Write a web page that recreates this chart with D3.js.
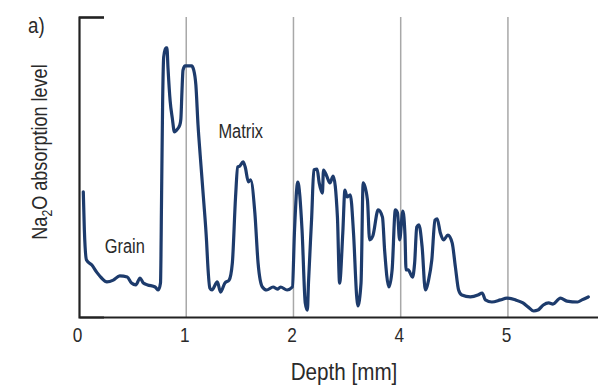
<!DOCTYPE html>
<html>
<head>
<meta charset="utf-8">
<script src="https://cdn.jsdelivr.net/npm/d3@7"></script>
<style>
  html, body { margin: 0; padding: 0; background: #fff; }
  svg text { font-family: "Liberation Sans", Arial, sans-serif; fill: #2a2a2a; }
</style>
</head>
<body>
<svg id="chart" width="598" height="385"></svg>
<script>
// Depth positions (tick index units) and Na2O absorption level (arbitrary units)
const depth = [0.04,0.05,0.07,0.12,0.17,0.21,0.26,0.32,0.38,0.45,0.49,0.53,0.57,0.60,0.64,0.71,0.74,0.76,0.77,0.78,0.79,0.81,0.82,0.83,0.85,0.87,0.89,0.91,0.94,0.95,0.96,0.97,0.99,1.03,1.05,1.07,1.09,1.11,1.13,1.16,1.19,1.20,1.22,1.24,1.29,1.32,1.36,1.40,1.43,1.46,1.48,1.50,1.53,1.55,1.58,1.60,1.64,1.67,1.71,1.75,1.81,1.85,1.88,1.94,1.99,2.01,2.04,2.08,2.11,2.13,2.14,2.17,2.19,2.22,2.24,2.27,2.28,2.31,2.34,2.37,2.41,2.43,2.46,2.48,2.50,2.53,2.56,2.59,2.60,2.63,2.65,2.69,2.71,2.74,2.79,2.83,2.85,2.89,2.92,2.95,2.97,2.99,3.02,3.04,3.05,3.07,3.11,3.13,3.15,3.17,3.20,3.23,3.26,3.29,3.32,3.34,3.37,3.40,3.44,3.48,3.51,3.54,3.57,3.65,3.72,3.76,3.79,3.85,3.93,3.99,4.07,4.14,4.19,4.24,4.28,4.33,4.38,4.42,4.49,4.55,4.65,4.69,4.75];
const level = [41.7,29,19,17.3,14.7,13,11.7,12.3,13.7,13.3,11.3,10.7,13,11.3,10.7,10,9,11.3,40,72,86.7,89.7,89.7,83,72,66.3,61.7,62.3,64,66,75,82.3,83.7,83.7,83.7,82.3,77.3,64,54,40,25,18,9.7,9,11.7,8.3,11.3,12.3,18,40,50,50.3,51.7,50,45,45.7,34.7,18,10,9,10,9.3,10,9,10,29,45,29,4.7,2.3,11.3,33.3,49,49.3,44.7,41.3,49,47,44.7,47,33.3,11.3,28,42.3,40,40.7,28,6.7,3.7,11.3,44.7,39,25.7,27,35.7,33.3,22.3,10,15.7,35.7,34.7,25.7,35.3,27.3,15.7,15.7,13.3,18,30,30.7,23.3,9,12.3,19,32.3,32.7,28,25.7,27.3,24.7,16.7,9,7.3,6.7,7.3,8,5.7,5,5.7,6.3,5.7,4.7,3.3,2,2.3,4,4.7,4.3,6.3,5.3,5,5.7,6.7];
const tickPos = [0, 1, 2, 3, 4];
const tickLabels = ["0", "1", "2", "4", "5"];
const annotations = [{text: "Grain", d: 0.24, v: 21.3}, {text: "Matrix", d: 1.30, v: 59.7}];

const svg = d3.select("#chart");
const x = d3.scaleLinear().domain([0, 4.84]).range([79, 598]);
const y = d3.scaleLinear().domain([0, 100]).range([317, 17]);

// narrow-font look: compress glyphs horizontally
function narrow(sel, f) {
  sel.each(function() {
    const w = this.getComputedTextLength();
    d3.select(this).attr("textLength", w * f).attr("lengthAdjust", "spacingAndGlyphs");
  });
}

// vertical grid lines
svg.append("g").selectAll("line").data(tickPos.slice(1)).join("line")
  .attr("x1", d => x(d)).attr("x2", d => x(d))
  .attr("y1", y(100)).attr("y2", y(0))
  .attr("stroke", "#a8a8a8").attr("stroke-width", 1.5);

// x axis
const xAxis = d3.axisBottom(x).tickValues(tickPos).tickSize(0)
  .tickFormat((d, i) => tickLabels[i]);
const gx = svg.append("g").attr("transform", `translate(0,${y(0)})`).call(xAxis);
gx.select(".domain").attr("stroke", "#222").attr("stroke-width", 2.2);
gx.selectAll(".tick text").attr("dy", 0).attr("y", 25).attr("dx", -2)
  .style("font-size", "21px").style("font-family", "'Liberation Sans', Arial, sans-serif")
  .attr("fill", "#2a2a2a").call(narrow, 0.82);

// y axis
const yAxis = d3.axisLeft(y).tickValues([100]).tickSize(-25).tickFormat("");
const gy = svg.append("g").attr("transform", `translate(${x(0)},0)`).call(yAxis);
gy.select(".domain").attr("stroke", "#222").attr("stroke-width", 2.2);
gy.selectAll(".tick line").attr("stroke", "#222").attr("stroke-width", 2.2);

// data line
const pts = depth.map((d, i) => [d, level[i]]);
svg.append("path").datum(pts)
  .attr("fill", "none").attr("stroke", "#1d3b6c").attr("stroke-width", 3.2)
  .attr("stroke-linejoin", "round").attr("stroke-linecap", "round")
  .attr("d", d3.line().x(d => x(d[0])).y(d => y(d[1])).curve(d3.curveMonotoneX));

// annotations
svg.append("g").selectAll("text").data(annotations).join("text")
  .attr("x", d => x(d.d)).attr("y", d => y(d.v))
  .style("font-size", "20px").text(d => d.text).call(narrow, 0.82);

// axis titles
svg.append("text").attr("x", 344).attr("y", 380).attr("text-anchor", "middle")
  .style("font-size", "24px").text("Depth [mm]").call(narrow, 0.86);

const yt = svg.append("text").attr("transform", "translate(47,152) rotate(-90)")
  .attr("text-anchor", "middle").style("font-size", "22px");
yt.append("tspan").text("Na");
yt.append("tspan").attr("dy", 5).style("font-size", "15px").text("2");
yt.append("tspan").attr("dy", -5).text("O absorption level");
yt.call(narrow, 0.82);

svg.append("text").attr("x", 28).attr("y", 33).style("font-size", "22px").text("a)").call(narrow, 0.85);
</script>
</body>
</html>
